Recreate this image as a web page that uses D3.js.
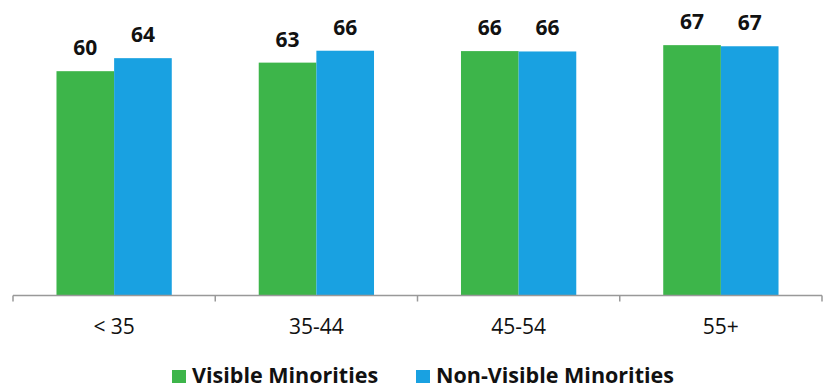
<!DOCTYPE html>
<html>
<head>
<meta charset="utf-8">
<script src="https://cdn.jsdelivr.net/npm/d3@7"></script>
<style>
  body { margin: 0; background: #fff; }
  svg { display: block; font-family: "Open Sans", sans-serif; }
</style>
</head>
<body>
<div id="content"></div>
<script>
// age groups and the two series (share, %)
var categories = ["< 35", "35-44", "45-54", "55+"];
var visible = [60.3, 62.6, 65.7, 67.3];
var nonVisible = [63.8, 65.8, 65.6, 67.0];
var seriesNames = ["Visible Minorities", "Non-Visible Minorities"];

var colors = ["#3db54a", "#19a1e1"];

var w = 823, h = 389;

var svg = d3.select("#content")
            .append("svg")
            .attr("width", w)
            .attr("height", h);

var x = d3.scaleBand()
          .domain(categories)
          .range([13, 822])
          .paddingInner(0.43)
          .paddingOuter(0.215);

var sub = d3.scaleBand()
            .domain([0, 1])
            .range([0, x.bandwidth()]);

var y = d3.scaleLinear()
          .domain([0, 70])
          .range([295.5, 295.5 - 70 * 3.72]);

var rows = categories.map(function(c, i) {
    return [{cat: c, s: 0, v: visible[i]}, {cat: c, s: 1, v: nonVisible[i]}];
});

var groups = svg.append("g")
    .selectAll("g")
    .data(rows)
    .enter()
    .append("g")
    .attr("transform", function(d) { return "translate(" + x(d[0].cat) + ",0)"; });

groups.selectAll("rect")
    .data(function(d) { return d; })
    .enter()
    .append("rect")
    .attr("x", function(d) { return sub(d.s); })
    .attr("width", sub.bandwidth())
    .attr("y", function(d) { return y(d.v); })
    .attr("height", function(d) { return y(0) - y(d.v); })
    .attr("fill", function(d) { return colors[d.s]; });

groups.selectAll("text")
    .data(function(d) { return d; })
    .enter()
    .append("text")
    .attr("x", function(d) { return sub(d.s) + sub.bandwidth() / 2; })
    .attr("y", function(d) { return y(d.v) - 16; })
    .attr("text-anchor", "middle")
    .attr("font-size", "21px")
    .attr("font-weight", "bold")
    .attr("fill", "#111")
    .text(function(d) { return d3.format(".0f")(d.v); });

// x axis: ticks sit between the groups
var axis = svg.append("g").attr("class", "axis");
axis.append("line")
    .attr("x1", 13).attr("x2", 822)
    .attr("y1", y(0)).attr("y2", y(0))
    .attr("stroke", "#999").attr("stroke-width", 1.5);

var edges = categories.map(function(c, i) { return 13 + i * x.step(); });
edges.push(822);
axis.selectAll(".tick")
    .data(edges)
    .enter()
    .append("line")
    .attr("x1", function(d) { return d; })
    .attr("x2", function(d) { return d; })
    .attr("y1", y(0))
    .attr("y2", y(0) + 6)
    .attr("stroke", "#999").attr("stroke-width", 1.5);

axis.selectAll("text")
    .data(categories)
    .enter()
    .append("text")
    .attr("x", function(d) { return x(d) + x.bandwidth() / 2; })
    .attr("y", 334)
    .attr("text-anchor", "middle")
    .attr("font-size", "21px")
    .attr("fill", "#111")
    .text(function(d) { return d; });

// legend
var legendX = [172, 416];
var legend = svg.append("g")
    .selectAll("g")
    .data(seriesNames)
    .enter()
    .append("g")
    .attr("transform", function(d, i) { return "translate(" + legendX[i] + ",370)"; });

legend.append("rect")
    .attr("width", 14).attr("height", 13)
    .attr("fill", function(d, i) { return colors[i]; });

legend.append("text")
    .attr("x", 20)
    .attr("y", 12.5)
    .attr("font-size", "21.5px")
    .attr("font-weight", "bold")
    .attr("fill", "#111")
    .text(function(d) { return d; });
</script>
</body>
</html>
